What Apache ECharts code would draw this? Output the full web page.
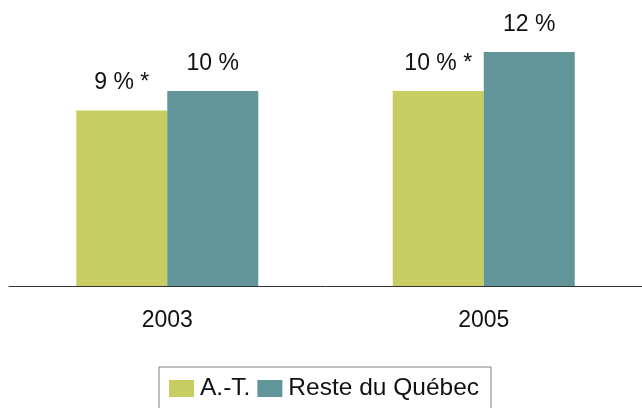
<!DOCTYPE html>
<html>
<head>
<meta charset="utf-8">
<script src="https://cdn.jsdelivr.net/npm/echarts@6/dist/echarts.min.js"></script>
<style>
html,body{margin:0;padding:0;background:#fff;}
#chart{width:642px;height:408px;}
</style>
</head>
<body>
<div id="chart"></div>
<script>
const categories = ['2003', '2005'];
const seriesNames = ['A.-T.', 'Reste du Québec'];
const valuesAT = [9, 10];
const valuesReste = [10, 12];
const labelsAT = ['9 % *', '10 % *'];
const labelsReste = ['10 %', '12 %'];

const FONT = 'Liberation Sans, Arial, sans-serif';
const chart = echarts.init(document.getElementById('chart'), null, {renderer: 'canvas'});

function labelCfg(labels) {
  return {
    show: true,
    position: 'top',
    distance: 16,
    fontFamily: FONT,
    fontSize: 23,
    color: '#111',
    formatter: p => labels[p.dataIndex]
  };
}

chart.setOption({
  animation: false,
  backgroundColor: '#fff',
  grid: {left: 9, width: 638, top: 13, height: 273},
  xAxis: {
    type: 'category',
    data: categories,
    axisLine: {show: true, lineStyle: {color: '#333', width: 1}},
    axisTick: {show: false},
    axisLabel: {fontFamily: FONT, fontSize: 23, color: '#111', margin: 23}
  },
  yAxis: {
    type: 'value',
    min: 0,
    max: 14,
    show: false,
    splitLine: {show: false}
  },
  legend: {
    left: 159,
    top: 367,
    padding: [9, 12, 9, 10],
    borderColor: '#808080',
    borderWidth: 1,
    itemWidth: 25,
    itemHeight: 17,
    itemGap: 7,
    icon: 'rect',
    textStyle: {fontFamily: FONT, fontSize: 24.5, color: '#111', padding: [0, 0, 0, 1]},
    data: seriesNames
  },
  series: [
    {
      name: seriesNames[0],
      type: 'bar',
      data: valuesAT,
      barWidth: 91,
      barGap: '0%',
      itemStyle: {color: '#C8CD62'},
      label: labelCfg(labelsAT)
    },
    {
      name: seriesNames[1],
      type: 'bar',
      data: valuesReste,
      barWidth: 91,
      barGap: '0%',
      itemStyle: {color: '#62959A'},
      label: labelCfg(labelsReste)
    }
  ]
});
</script>
</body>
</html>
